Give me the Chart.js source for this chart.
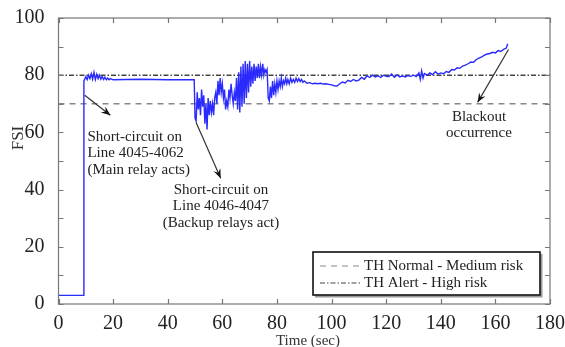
<!DOCTYPE html>
<html>
<head>
<meta charset="utf-8">
<script src="https://cdn.jsdelivr.net/npm/chart.js@4"></script>
<style>
html,body{margin:0;padding:0;background:#fff;}
#wrap{width:565px;height:347px;position:relative;}
</style>
</head>
<body>
<div id="wrap"><canvas id="c" width="565" height="347"></canvas></div>
<script>
const timeSec = [0,9.2,9.3,10,10.5,11,11.5,12,12.5,13,13.5,14,14.5,15,15.5,16,16.5,17,17.5,18,18.5,19,20,25,30,35,40,45,49.7,
50,50.4,50.8,51.2,51.6,52,52.4,52.8,53.2,53.6,54,54.4,54.8,55.2,55.6,56,56.4,56.8,57.2,57.6,58,58.4,58.8,59.2,59.6,60,60.4,60.8,61.2,61.6,62,62.4,62.8,63.2,63.6,64,64.4,64.8,65.2,65.6,66,66.4,66.8,67.2,67.6,68,68.4,68.8,69.2,69.6,70,70.4,70.8,71.2,71.6,72,72.4,72.8,73.2,73.6,74,74.4,74.8,75.2,75.6,76,76.4,76.8,77.2,77.6,78,78.4,78.8,79.2,79.6,80,80.4,80.8,81.2,81.6,82,82.4,82.8,83.2,83.6,84,84.5,85,85.5,86,86.5,87,87.5,88,88.5,89,89.5,90,91,92,93,94,95,96,97,98,99,100,101,102,103,104,105,106,107,108,109,110,111,112,113,114,115,116,117,118,119,120,121,122,123,124,125,126,127,128,129,130,131,132,132.5,133,133.5,134,135,136,137,138,139,140,141,142,143,144,145,146,147,148,149,150,151,152,153,154,155,156,157,158,159,160,161,162,163,164,164.5];
const fsiValues = [3,3,78,79.5,78.5,80,78.8,80.5,78.6,81,78.5,80.3,78.8,80,78.6,79.6,78.5,79.3,78.4,79,78.4,78.8,78.4,78.5,78.6,78.5,78.4,78.4,78.4,
65,64,74,68,72,66,75,69,73,63,70,61,72,66,71,67,70,66,72,74,70,78,73,79,74,77,72,75,68,71,69,75,72,77,73,70,74,71,79,68,81,67,83,69,84,70,85,72,84,74,85,76,83,77,84,78,83,79,84,79,83,80,84,80,82,81,82,72,71,76,72,78,73,77,74,78,75,78,76,79,76,78,77,79,77,78.5,77,79,77.5,78.5,77.5,79,77.8,78.8,77.8,78.5,77.5,78,77.2,77.4,77,77.2,77,77.2,76.9,77,76.8,76.6,76.3,76.2,77,77.6,77.3,78.2,77.8,78.5,78,78.3,79.2,78.6,79.8,79.2,80,79.4,79.8,79.2,80,79.6,79.5,80.4,79.3,80.1,79.4,79.8,79.4,79.9,79.6,80,79.5,80.8,78.5,81.5,79,80.6,80,80.8,80.2,81.2,80.4,80.8,80.5,81.3,81,82,81.8,82.6,82.4,83.2,83.5,84,84.6,84.5,85.5,86,86.4,87,87.4,87.6,88,87.8,88.6,88.3,89,89.5,91];
const thresholdNames = ["TH Normal - Medium risk","TH Alert - High risk"];
const thresholdValues = [70, 80];
const xTickLabels = [0,20,40,60,80,100,120,140,160,180];
const yTickLabels = [0,20,40,60,80,100];
const annotations = [
  {lines:["Short-circuit on","Line 4045-4062","(Main relay acts)"], from:[9.6,73], to:[19,66], text:[10.6,58.5], align:"left"},
  {lines:["Short-circuit on","Line 4046-4047","(Backup relays act)"], from:[50.4,63.5], to:[59.4,44], text:[59.5,40], align:"center"},
  {lines:["Blackout","occurrence"], from:[164.8,89], to:[153.5,70.5], text:[154,65.5], align:"center"}
];

const SERIF = '"Liberation Serif","DejaVu Serif",serif';
const fsiData = timeSec.map((t,i)=>({x:t,y:fsiValues[i]}));

const framePlugin = {
  id:'frame',
  afterDatasetsDraw(chart){
    const {ctx, chartArea:a, scales:{x,y}} = chart;
    ctx.save();
    ctx.strokeStyle = '#777';
    ctx.lineWidth = 1.2;
    ctx.strokeRect(a.left, a.top, a.right-a.left, a.bottom-a.top);
    ctx.beginPath();
    for (let v=0; v<=100; v+=10){
      const py = Math.round(y.getPixelForValue(v))+0.5;
      ctx.moveTo(a.left, py); ctx.lineTo(a.left+5, py);
      ctx.moveTo(a.right, py); ctx.lineTo(a.right-5, py);
    }
    for (let v=0; v<=180; v+=20){
      const px = Math.round(x.getPixelForValue(v))+0.5;
      ctx.moveTo(px, a.bottom); ctx.lineTo(px, a.bottom-5);
      ctx.moveTo(px, a.top); ctx.lineTo(px, a.top+5);
    }
    ctx.stroke();

    ctx.fillStyle = '#222';
    ctx.strokeStyle = '#333';
    ctx.font = '15px '+SERIF;
    ctx.textBaseline = 'middle';
    annotations.forEach(an=>{
      const x1=x.getPixelForValue(an.from[0]), y1=y.getPixelForValue(an.from[1]);
      const x2=x.getPixelForValue(an.to[0]), y2=y.getPixelForValue(an.to[1]);
      ctx.lineWidth = 1.2;
      ctx.beginPath(); ctx.moveTo(x1,y1); ctx.lineTo(x2,y2); ctx.stroke();
      const ang = Math.atan2(y2-y1, x2-x1);
      const L=10, W=0.38;
      ctx.beginPath();
      ctx.moveTo(x2,y2);
      ctx.lineTo(x2-L*Math.cos(ang-W), y2-L*Math.sin(ang-W));
      ctx.lineTo(x2-L*0.6*Math.cos(ang), y2-L*0.6*Math.sin(ang));
      ctx.lineTo(x2-L*Math.cos(ang+W), y2-L*Math.sin(ang+W));
      ctx.closePath(); ctx.fillStyle='#111'; ctx.fill();
      ctx.fillStyle = '#222';
      ctx.textAlign = an.align;
      const tx = x.getPixelForValue(an.text[0]);
      let ty = y.getPixelForValue(an.text[1]);
      an.lines.forEach((ln,i)=>ctx.fillText(ln, tx, ty+i*16.5));
    });

    const lx=313, ly=252, lw=227, lh=43;
    ctx.fillStyle='#fff';
    ctx.fillRect(lx,ly,lw,lh);
    ctx.strokeStyle='#999'; ctx.lineWidth=2;
    ctx.beginPath(); ctx.moveTo(lx+2,ly+lh+1.5); ctx.lineTo(lx+lw+1.5,ly+lh+1.5); ctx.lineTo(lx+lw+1.5,ly+2); ctx.stroke();
    ctx.strokeStyle='#111'; ctx.lineWidth=1.6;
    ctx.strokeRect(lx,ly,lw,lh);
    const dss = chart.data.datasets.slice(1);
    const rowsY=[266,283];
    ctx.textAlign='left';
    ctx.font='15px '+SERIF;
    dss.forEach((ds,i)=>{
      ctx.strokeStyle = ds.borderColor; ctx.lineWidth = 1.2;
      ctx.setLineDash(ds.borderDash);
      ctx.beginPath(); ctx.moveTo(320, rowsY[i]); ctx.lineTo(361, rowsY[i]); ctx.stroke();
      ctx.setLineDash([]);
      ctx.fillStyle='#222';
      ctx.fillText(ds.label, 364, rowsY[i]+0.5);
    });

    ctx.fillStyle='#333';
    ctx.font='15px '+SERIF;
    ctx.textAlign='center';
    ctx.fillText('Time (sec)', 308, 341);
    ctx.save();
    ctx.translate(19, 138);
    ctx.rotate(-Math.PI/2);
    ctx.font='17px '+SERIF;
    ctx.fillText('FSI', 0, 0);
    ctx.restore();
    ctx.restore();
  }
};

new Chart(document.getElementById('c'), {
  type:'scatter',
  data:{
    datasets:[
      {label:'FSI', data:fsiData, showLine:true, borderColor:'#2a2aff', borderWidth:1.4, pointRadius:0, tension:0, order:0},
      {label:thresholdNames[0], data:[{x:0,y:thresholdValues[0]},{x:180,y:thresholdValues[0]}], showLine:true, borderColor:'#888', borderWidth:1.4, borderDash:[6,5], pointRadius:0, order:2},
      {label:thresholdNames[1], data:[{x:0,y:thresholdValues[1]},{x:180,y:thresholdValues[1]}], showLine:true, borderColor:'#444', borderWidth:1.4, borderDash:[5,2,1.5,2], pointRadius:0, order:1}
    ]
  },
  options:{
    responsive:false, animation:false,
    layout:{padding:{left:0,right:11,top:17,bottom:0}},
    plugins:{legend:{display:false}, tooltip:{enabled:false}},
    scales:{
      x:{type:'linear', min:0, max:180,
         afterBuildTicks:s=>{s.ticks = xTickLabels.map(v=>({value:v}));},
         afterFit:s=>{s.height=43;},
         grid:{display:false}, border:{display:false},
         ticks:{font:{family:SERIF,size:20}, color:'#222', padding:0, maxRotation:0, autoSkip:false}},
      y:{type:'linear', min:0, max:100,
         afterBuildTicks:s=>{s.ticks = yTickLabels.map(v=>({value:v}));},
         afterFit:s=>{s.width=58.5;},
         grid:{display:false}, border:{display:false},
         ticks:{font:{family:SERIF,size:20}, color:'#222', padding:6}}
    }
  },
  plugins:[framePlugin]
});
</script>
</body>
</html>
